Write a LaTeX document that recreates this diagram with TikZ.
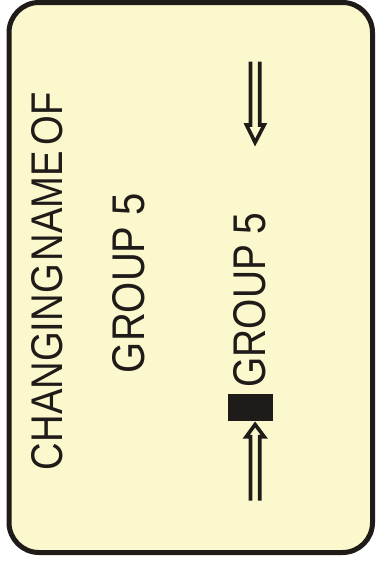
\documentclass[tikz,border=0pt]{standalone}
\usepackage{fontspec}
\setmainfont{Liberation Sans}
\usepackage{graphicx}
\definecolor{cardfill}{HTML}{FCF8CD}
\definecolor{ink}{HTML}{1F1B18}
\begin{document}
\begin{tikzpicture}[x=1pt,y=-1pt,
  frame/.style={draw=ink,line width=5pt,fill=cardfill,rounded corners=30pt},
  label/.style={inner sep=0pt,outer sep=0pt,text=ink,rotate=90},
  hollowarrow/.style={draw=ink,line width=3.6pt,miter limit=10,line join=miter},
  block/.style={fill=ink,draw=none}]
\useasboundingbox (0,0) rectangle (375,562);
\draw[frame] (9,2.5) rectangle (372.5,552.5);
\node[label] (title) at (47.5,281) {\resizebox{378pt}{31pt}{CHANGING\hspace{0.08em}NAME\hspace{0.15em}OF}};
\node[label] (groupA) at (128.5,283) {\resizebox{180pt}{32pt}{GROUP 5}};
\node[label] (groupB) at (249.5,300) {\resizebox{175pt}{32pt}{GROUP 5}};
\node[block,minimum width=45pt,minimum height=27pt,inner sep=0pt] (mark) at (250.5,407.5) {};
% top arrow (pointing down)
\draw[hollowarrow] (250.5,61.7) -- (250.5,125) -- (246.5,125) -- (255.1,142.5) -- (264.2,125) -- (259.7,125) -- (259.7,61.7);
% bottom arrow (pointing up to the mark)
\draw[hollowarrow] (250.5,500.7) -- (250.5,436.7) -- (246.2,436.7) -- (255.1,424.5) -- (264.2,436.7) -- (259.7,436.7) -- (259.7,500.7);
\end{tikzpicture}
\end{document}
